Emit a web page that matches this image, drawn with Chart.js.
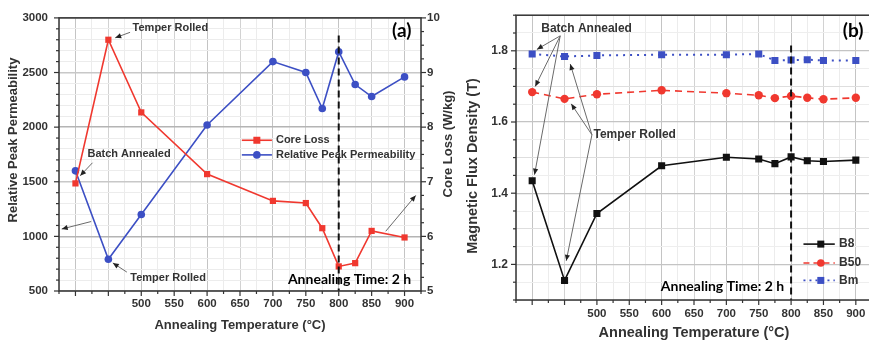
<!DOCTYPE html>
<html><head><meta charset="utf-8">
<script src="https://cdn.jsdelivr.net/npm/chart.js@4"></script>
<style>
html,body{margin:0;padding:0;background:#fff;overflow:hidden;width:869px;height:347px;}
#wa{position:absolute;left:0;top:0;width:455px;height:347px;}
#wb{position:absolute;left:440px;top:0;width:445px;height:347px;}
</style></head><body>
<div id="wa"><canvas id="ca"></canvas></div>
<div id="wb"><canvas id="cb"></canvas></div>
<script>
// ---------- data ----------
const temps = [400,450,500,600,700,750,775,800,825,850,900];
const xTickLabels = [500,550,600,650,700,750,800,850,900];
const coreLoss = [6.97,9.6,8.27,7.14,6.65,6.61,6.15,5.45,5.51,6.1,5.98];
const peakPerm = [1600,790,1200,2020,2600,2500,2170,2690,2390,2280,2460];
const permTicks = [500,1000,1500,2000,2500,3000];
const lossTicks = [5,6,7,8,9,10];
const b8  = [1.435,1.155,1.343,1.477,1.501,1.496,1.483,1.502,1.491,1.489,1.493];
const b50 = [1.684,1.665,1.678,1.689,1.681,1.675,1.667,1.673,1.668,1.664,1.668];
const bm  = [1.791,1.784,1.787,1.789,1.789,1.791,1.773,1.774,1.775,1.773,1.773];
const fluxTicks = [1.2,1.4,1.6,1.8];

// ---------- styling helpers ----------
const FONT = '"Liberation Sans", Arial, sans-serif';
const FONT2 = 'Lato, "Open Sans", sans-serif';
const RED = '#f0382f', BLUE = '#3c4fc4', BLK = '#111111';
const pts = arr => temps.map((t,i)=>({x:t,y:arr[i]}));

function T(c,s,x,y,font,color,align,base,rot){
  c.save(); c.translate(x,y); c.rotate(rot||0); c.font=font; c.fillStyle=color||'#333';
  c.textAlign=align||'left'; c.textBaseline=base||'middle'; c.fillText(s,0,0); c.restore();
}
function arrow(c,x1,y1,x2,y2){
  c.save(); c.strokeStyle='#6a6a6a'; c.lineWidth=1; c.beginPath(); c.moveTo(x1,y1); c.lineTo(x2,y2); c.stroke();
  const a=Math.atan2(y2-y1,x2-x1), L=6, W=2.6;
  c.fillStyle='#222'; c.beginPath(); c.moveTo(x2,y2);
  c.lineTo(x2-L*Math.cos(a)+W*Math.sin(a), y2-L*Math.sin(a)-W*Math.cos(a));
  c.lineTo(x2-L*Math.cos(a)-W*Math.sin(a), y2-L*Math.sin(a)+W*Math.cos(a));
  c.closePath(); c.fill(); c.restore();
}
function drawTicks(ch,id,isMajor,side){
  const s=ch.scales[id], c=ch.ctx, ca=ch.chartArea;
  c.save(); c.strokeStyle='#333'; c.lineWidth=1.2;
  s.ticks.forEach(t=>{
    const p=s.getPixelForValue(t.value); const L=isMajor(t.value)?5:3; c.beginPath();
    if(side==='bottom'){c.moveTo(p,ca.bottom); c.lineTo(p,ca.bottom+L);}
    else if(side==='left'){c.moveTo(ca.left,p); c.lineTo(ca.left-L,p);}
    else {c.moveTo(ca.right,p); c.lineTo(ca.right+L,p);}
    c.stroke();
  });
  c.restore();
}
const near = (v,m) => Math.abs(v/m - Math.round(v/m)) < 1e-6;
function xGridColor(ctx){ const v=ctx.tick.value; if(near(v,100)) return '#c4c4c4'; if(near(v,50)) return '#d2d2d2'; return '#ececec'; }
function legendRow(c,x1,x2,xm,xt,y,color,dash,style,label,font){
  c.save(); c.strokeStyle=color; c.lineWidth=1.6; c.setLineDash(dash); c.beginPath(); c.moveTo(x1,y); c.lineTo(x2,y); c.stroke(); c.restore();
  c.save(); c.fillStyle=color;
  if(style==='rect'){ c.fillRect(xm-3.5,y-3.5,7,7);} else { c.beginPath(); c.arc(xm,y,3.8,0,Math.PI*2); c.fill(); }
  c.restore();
  T(c,label,xt,y,font,'#333','left','middle');
}
const xScale = (h,pad) => ({
  type:'linear', min:375, max:925,
  ticks:{stepSize:25, autoSkip:false, maxRotation:0, minRotation:0, padding:pad,
    callback:v=>xTickLabels.includes(v)?String(v):'', color:'#333', font:{family:FONT,size:11.5,weight:'bold'}},
  grid:{color:xGridColor, lineWidth:1, drawTicks:false}, border:{display:false},
  afterFit:s=>{s.height=h;}
});

// ---------- panel (a) ----------
const decoA = {
  id:'decoA',
  afterDraw(ch){
    const c=ch.ctx, ca=ch.chartArea, X=ch.scales.x, Y=ch.scales.y;
    const px=v=>X.getPixelForValue(v), py=v=>Y.getPixelForValue(v);
    c.save(); c.strokeStyle='#111'; c.lineWidth=2; c.setLineDash([7,4]);
    c.beginPath(); c.moveTo(px(800),py(2840)); c.lineTo(px(800),ca.bottom); c.stroke(); c.restore();
    c.save(); c.strokeStyle='#333'; c.lineWidth=1.5; c.strokeRect(ca.left,ca.top,ca.width,ca.height); c.restore();
    drawTicks(ch,'x',v=>near(v,50),'bottom');
    drawTicks(ch,'y',v=>near(v,500),'left');
    drawTicks(ch,'y2',v=>near(v,1),'right');
    const tf='bold 13px '+FONT;
    T(c,'Relative Peak Permeability',13,140,tf,'#333','center','middle',-Math.PI/2);
    T(c,'Core Loss (W/kg)',448,144,tf,'#333','center','middle',-Math.PI/2);
    T(c,'Annealing Temperature (°C)',(ca.left+ca.right)/2,325,tf,'#333','center','middle');
    const af='bold 11px '+FONT;
    T(c,'Temper Rolled',px(486.8),py(2904),af,'#333');
    arrow(c,px(483),py(2868),px(460.4),py(2818));
    T(c,'Batch Annealed',px(418.3),py(1757),af,'#333');
    arrow(c,px(425.9),py(1674),px(407.2),py(1555));
    arrow(c,px(423.9),py(1136),px(379.1),py(1067));
    T(c,'Temper Rolled',px(483.3),py(623),af,'#333');
    arrow(c,px(478.1),py(673),px(456.8),py(757));
    arrow(c,px(871.4),py(1047),px(917),py(1375));
    legendRow(c,px(652.8),px(698.5),px(675.6),px(704.6),py(1880),RED,[],'rect','Core Loss',af);
    legendRow(c,px(652.8),px(698.5),px(675.6),px(704.6),py(1746),BLUE,[],'circle','Relative Peak Permeability',af);
    T(c,'Annealing Time: 2 h',px(722.8),py(608),'bold 14px '+FONT2,'#000');
    T(c,'(a)',px(881),py(2884),'bold 19px '+FONT2,'#000');
  }
};
new Chart(document.getElementById('ca'),{
  type:'line',
  data:{datasets:[
    {label:'Core Loss',data:pts(coreLoss),yAxisID:'y2',borderColor:RED,backgroundColor:RED,borderWidth:1.6,
     pointStyle:'rect',pointRadius:4.4,pointBorderWidth:0,tension:0},
    {label:'Relative Peak Permeability',data:pts(peakPerm),yAxisID:'y',borderColor:BLUE,backgroundColor:BLUE,borderWidth:1.6,
     pointStyle:'circle',pointRadius:3.8,pointBorderWidth:0,tension:0}
  ]},
  options:{
    responsive:true, maintainAspectRatio:false, animation:false,
    layout:{padding:{top:12,left:0,right:0,bottom:0}},
    plugins:{legend:{display:false},tooltip:{enabled:false}},
    scales:{
      x:xScale(56,6),
      y:{position:'left',min:500,max:3000,
        ticks:{stepSize:100,autoSkip:false,maxTicksLimit:1000,padding:11,color:'#333',
          font:{family:FONT,size:11.5,weight:'bold'},callback:v=>permTicks.includes(v)?String(v):''},
        grid:{drawTicks:false,color:c=>near(c.tick.value,1000)?'#b4b4b4':(near(c.tick.value,500)?'#c8c8c8':'#ececec'),
          lineWidth:c=>near(c.tick.value,500)?1.4:1},
        border:{display:false}, afterFit:s=>{s.width=59;}},
      y2:{position:'right',min:5,max:10,
        ticks:{stepSize:0.25,autoSkip:false,maxTicksLimit:1000,padding:6,color:'#333',
          font:{family:FONT,size:11.5,weight:'bold'},callback:v=>lossTicks.includes(v)?String(v):''},
        grid:{display:false,drawTicks:false}, border:{display:false}, afterFit:s=>{s.width=34;}}
    }
  },
  plugins:[decoA]
});

// ---------- panel (b) ----------
const decoB = {
  id:'decoB',
  afterDraw(ch){
    const c=ch.ctx, ca=ch.chartArea, X=ch.scales.x, Y=ch.scales.y;
    const px=v=>X.getPixelForValue(v), py=v=>Y.getPixelForValue(v);
    c.save(); c.strokeStyle='#111'; c.lineWidth=2; c.setLineDash([7,4]);
    c.beginPath(); c.moveTo(px(800),py(1.815)); c.lineTo(px(800),ca.bottom); c.stroke(); c.restore();
    c.save(); c.strokeStyle='#333'; c.lineWidth=1.5; c.strokeRect(ca.left,ca.top,ca.width,ca.height); c.restore();
    drawTicks(ch,'x',v=>near(v,50),'bottom');
    drawTicks(ch,'y',v=>near(v,0.2),'left');
    const tf='bold 14.5px '+FONT;
    T(c,'Magnetic Flux Density (T)',33,166,tf,'#333','center','middle',-Math.PI/2);
    T(c,'Annealing Temperature (°C)',(ca.left+ca.right)/2,333,tf,'#333','center','middle');
    const af='bold 12px '+FONT;
    T(c,'Batch Annealed',px(414),py(1.863),af,'#333');
    arrow(c,px(443.3),py(1.842),px(407.3),py(1.804));
    arrow(c,px(443.3),py(1.842),px(404.7),py(1.700));
    arrow(c,px(443.3),py(1.842),px(403.6),py(1.452));
    T(c,'Temper Rolled',px(494.7),py(1.563),af,'#333');
    arrow(c,px(492.3),py(1.564),px(458.8),py(1.763));
    arrow(c,px(492.3),py(1.564),px(460.3),py(1.651));
    arrow(c,px(492.3),py(1.564),px(452.6),py(1.210));
    const lf='bold 12px '+FONT;
    legendRow(c,px(819.1),px(867.5),px(845.9),px(874.2),py(1.257),BLK,[],'rect','B8',lf);
    legendRow(c,px(819.1),px(867.5),px(845.9),px(874.2),py(1.204),RED,[6,4],'circle','B50',lf);
    legendRow(c,px(819.1),px(867.5),px(845.9),px(874.2),py(1.155),BLUE,[2,4],'rect','Bm',lf);
    T(c,'Annealing Time: 2 h',px(598.8),py(1.138),'bold 14px '+FONT2,'#000');
    T(c,'(b)',px(879.9),py(1.857),'bold 19px '+FONT2,'#000');
  }
};
new Chart(document.getElementById('cb'),{
  type:'line',
  data:{datasets:[
    {label:'B8',data:pts(b8),borderColor:BLK,backgroundColor:BLK,borderWidth:1.6,
     pointStyle:'rect',pointRadius:5,pointBorderWidth:0,tension:0},
    {label:'B50',data:pts(b50),borderColor:RED,backgroundColor:RED,borderWidth:1.6,borderDash:[7,5],
     pointStyle:'circle',pointRadius:4.2,pointBorderWidth:0,tension:0},
    {label:'Bm',data:pts(bm),borderColor:BLUE,backgroundColor:BLUE,borderWidth:2,borderDash:[2,5],
     pointStyle:'rect',pointRadius:5,pointBorderWidth:0,tension:0}
  ]},
  options:{
    responsive:true, maintainAspectRatio:false, animation:false,
    layout:{padding:{top:13,left:0,right:13,bottom:0}},
    plugins:{legend:{display:false},tooltip:{enabled:false}},
    scales:{
      x:xScale(47,7),
      y:{position:'left',min:1.1,max:1.9,
        ticks:{stepSize:0.05,autoSkip:false,maxTicksLimit:1000,padding:8,color:'#333',
          font:{family:FONT,size:12,weight:'bold'},
          callback:v=>{const r=Math.round(v*100)/100; return fluxTicks.includes(r)?r.toFixed(1):'';}},
        grid:{drawTicks:false,color:c=>near(c.tick.value,0.2)?'#c4c4c4':(near(c.tick.value,0.1)?'#dedede':'#eeeeee'),
          lineWidth:c=>near(c.tick.value,0.2)?1.3:1},
        border:{display:false}, afterFit:s=>{s.width=76;}}
    }
  },
  plugins:[decoB]
});
</script>
</body></html>
